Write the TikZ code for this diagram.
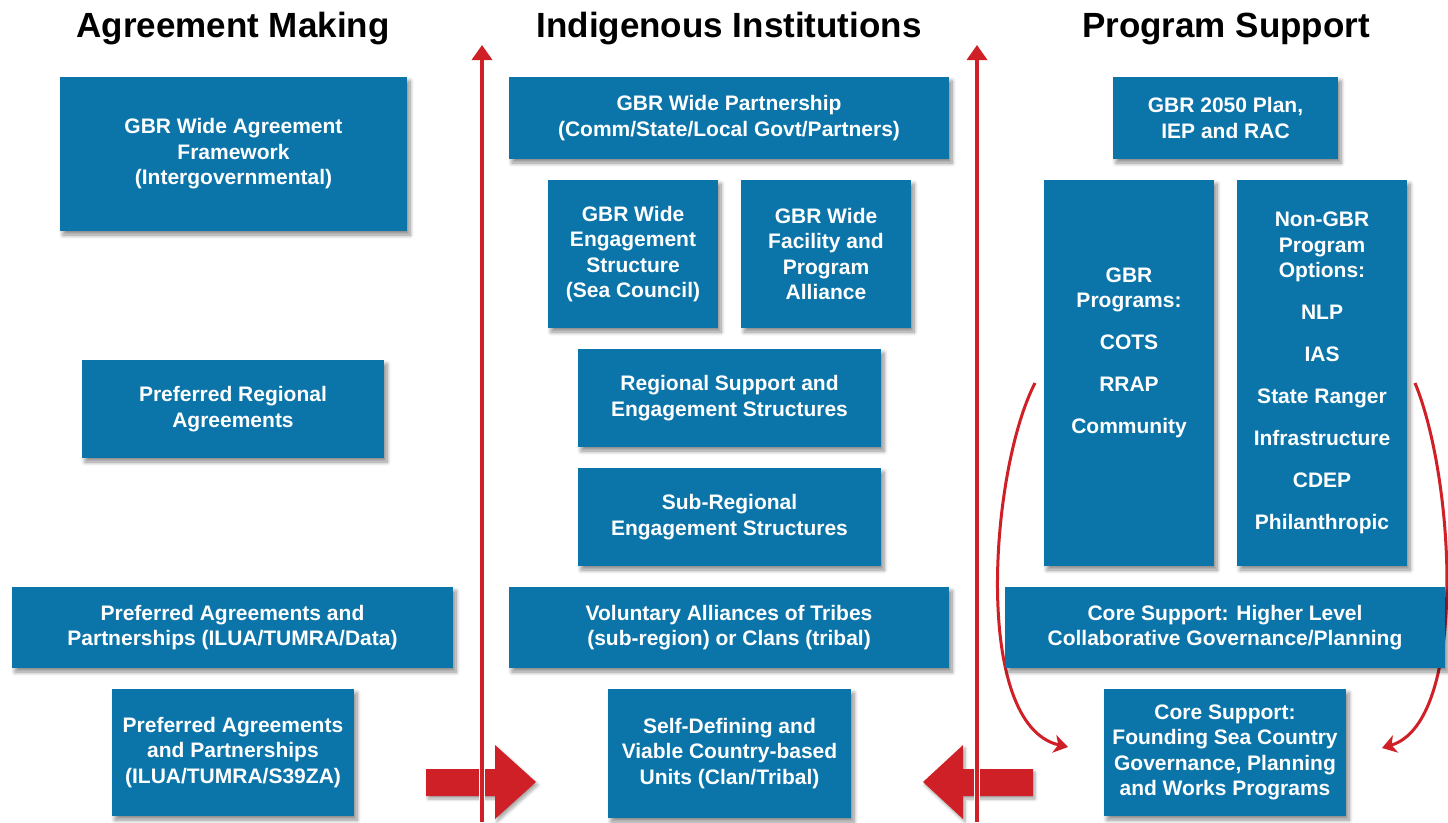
\documentclass[tikz,border=0pt]{standalone}
\usepackage{fontspec}
\setmainfont{Liberation Sans}
\usetikzlibrary{arrows.meta,shadows.blur}

\definecolor{boxblue}{RGB}{11,117,170}
\definecolor{arrred}{RGB}{208,32,39}

\tikzset{
  boxtext/.style={text=white, align=center, inner sep=0pt,
    font=\bfseries\fontsize{21}{25.5}\selectfont},
  box/.style={boxtext, fill=boxblue,
    blur shadow={shadow xshift=3pt, shadow yshift=-4pt,
      shadow blur steps=8, shadow opacity=45, shadow blur radius=4pt}},
  heading/.style={font=\bfseries\fontsize{35}{40}\selectfont, text=black,
    inner sep=0pt, anchor=base},
  riser/.style={draw=arrred, line width=3.5pt,
    -{Triangle[width=20pt,length=15pt]}},
  riseredge/.style={draw=white, line width=6pt},
  streamarrow/.style={draw=arrred, line width=3pt,
    -{Stealth[width=18pt,length=14pt,inset=4pt]}},
  bigarrow/.style={fill=arrred,
    blur shadow={shadow xshift=2pt, shadow yshift=-3pt,
      shadow blur steps=6, shadow opacity=35, shadow blur radius=3pt}},
}

% box from (x1,y1) to (x2,y2), pixel-like coordinates with y downwards
\newcommand\blk[6]{%
  \node[box, minimum width={(#4)-(#2)}, minimum height={(#5)-(#3)}]
    (#1) at ({((#2)+(#4))/2},{((#3)+(#5))/2}) {#6};}

\begin{document}
\begin{tikzpicture}[x=1pt, y=-1pt]
\useasboundingbox (0,0) rectangle (1448,822);

% program streams flowing into the founding core support (behind the boxes)
\coordinate (cl0) at (1035,383);
\coordinate (cl1) at (1068,747);
\coordinate (cr0) at (1415,383);
\coordinate (cr1) at (1382,748);
\draw[streamarrow] (cl0) .. controls (990,470) and (972,725) .. (cl1);
\draw[streamarrow] (cr0) .. controls (1455,480) and (1468,722) .. (cr1);

% column headings
\node[heading] (hA) at (233,37.5) {Agreement Making};
\node[heading] (hI) at (729,37.5) {Indigenous Institutions};
\node[heading] (hP) at (1226,37.5) {Program Support};

% agreement making
\blk{a1}{60}{77}{407}{231}{GBR Wide Agreement\\Framework\\(Intergovernmental)}
\blk{a2}{82}{360}{384}{458}{Preferred Regional\\Agreements}
\blk{a3}{12}{587}{453}{668}{Preferred Agreements and\\Partnerships (ILUA/TUMRA/Data)}
\blk{a4}{112}{689}{354}{816}{Preferred Agreements\\and Partnerships\\(ILUA/TUMRA/S39ZA)}

% indigenous institutions
\blk{i1}{509}{77}{949}{159}{GBR Wide Partnership\\(Comm/State/Local Govt/Partners)}
\blk{i2}{548}{180}{718}{328}{GBR Wide\\Engagement\\Structure\\(Sea Council)}
\blk{i3}{741}{180}{911}{328}{GBR Wide\\Facility and\\Program\\Alliance}
\blk{i4}{578}{349}{881}{447}{Regional Support and\\Engagement Structures}
\blk{i5}{578}{468}{881}{566}{Sub-Regional\\Engagement Structures}
\blk{i6}{509}{587}{949}{668}{Voluntary Alliances of Tribes\\(sub-region) or Clans (tribal)}
\blk{i7}{608}{689}{851}{818}{Self-Defining and\\Viable Country-based\\Units (Clan/Tribal)}

% program support
\blk{p1}{1113}{77}{1338}{159}{GBR 2050 Plan,\\IEP and RAC}
\blk{p2}{1044}{180}{1214}{566}{}
\node[boxtext] (p2text) at (1129,353)
  {GBR\\Programs:\\[16.5pt]COTS\\[16.5pt]RRAP\\[16.5pt]Community};
\blk{p3}{1237}{180}{1407}{566}{Non-GBR\\Program\\Options:\\[16.5pt]NLP\\[16.5pt]IAS\\[16.5pt]State Ranger\\[16.5pt]Infrastructure\\[16.5pt]CDEP\\[16.5pt]Philanthropic}
\blk{p4}{1005}{587}{1445}{668}{Core Support: Higher Level\\Collaborative Governance/Planning}
\blk{p5}{1104}{689}{1346}{816}{Core Support:\\Founding Sea Country\\Governance, Planning\\and Works Programs}

% block arrows pointing into the institutions column
\fill[bigarrow] (426,769) -- (495,769) -- (495,745) -- (536,782)
  -- (495,819) -- (495,796) -- (426,796) -- cycle;
\fill[bigarrow] (1033,769) -- (963,769) -- (963,745) -- (923,782)
  -- (963,819) -- (963,796) -- (1033,796) -- cycle;

% vertical dividers rising to the top
\coordinate (dl0) at (482,822);
\coordinate (dl1) at (482,45);
\coordinate (dr0) at (977,822);
\coordinate (dr1) at (977,45);
\draw[riseredge] (dl0) -- (482,700);
\draw[riseredge] (dr0) -- (977,700);
\draw[riser] (dl0) -- (dl1);
\draw[riser] (dr0) -- (dr1);
\end{tikzpicture}
\end{document}
